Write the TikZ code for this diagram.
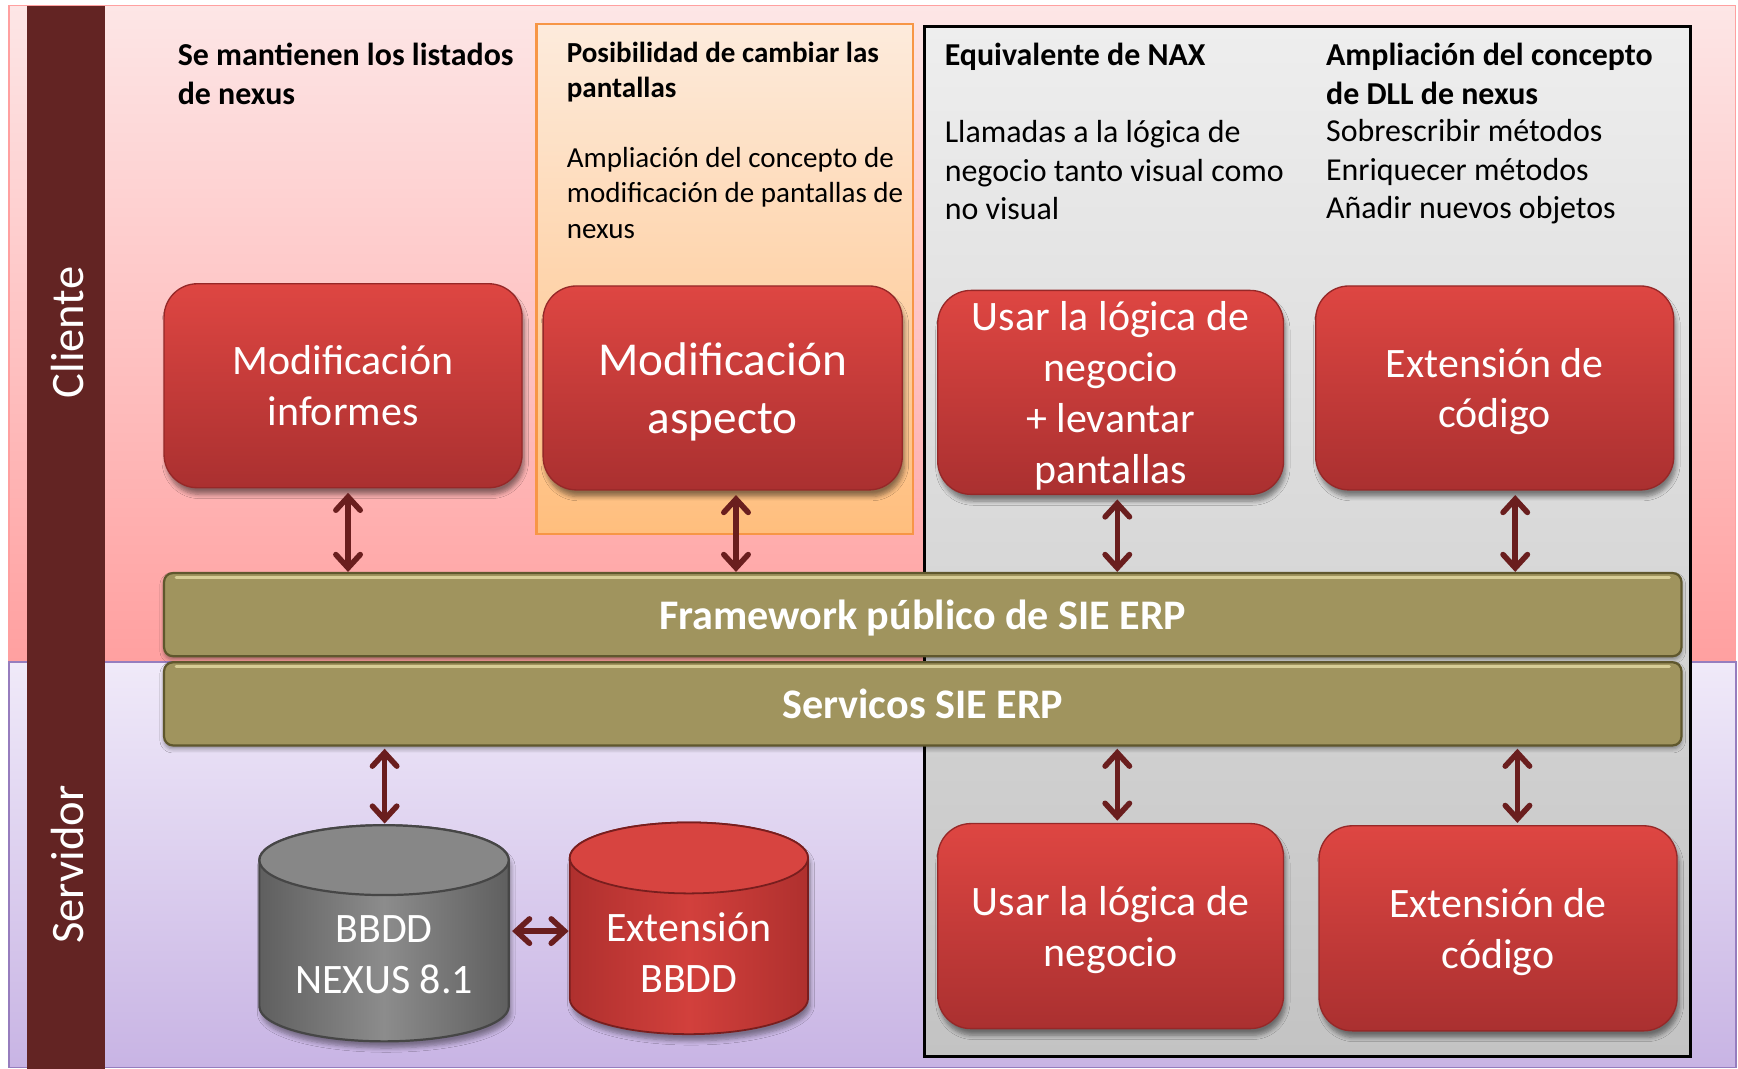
\documentclass[tikz,border=0pt]{standalone}
\usepackage{fontspec}
\setmainfont{Carlito}
\usetikzlibrary{arrows.meta,shadows.blur}
\definecolor{pinkT}{RGB}{253,230,230}
\definecolor{pinkB}{RGB}{255,160,160}
\definecolor{lavT}{RGB}{240,234,249}
\definecolor{lavB}{RGB}{200,180,228}
\definecolor{lavD}{RGB}{150,125,190}
\definecolor{maroonC}{RGB}{99,36,35}
\definecolor{orT}{RGB}{253,235,220}
\definecolor{orB}{RGB}{255,190,125}
\definecolor{orD}{RGB}{247,150,70}
\definecolor{grT}{RGB}{238,238,238}
\definecolor{grB}{RGB}{195,195,195}
\definecolor{redT}{RGB}{222,70,66}
\definecolor{redB}{RGB}{170,48,48}
\definecolor{redD}{RGB}{150,40,40}
\definecolor{oliveC}{RGB}{160,148,94}
\definecolor{oliveD}{RGB}{95,87,45}
\definecolor{oliveH}{RGB}{215,205,150}
\definecolor{arrC}{RGB}{106,30,30}
\definecolor{cylGd}{RGB}{95,95,95}
\definecolor{cylGm}{RGB}{140,140,140}
\definecolor{cylGt}{RGB}{135,135,135}
\definecolor{cylGo}{RGB}{70,70,70}
\definecolor{cylRd}{RGB}{175,48,46}
\definecolor{cylRm}{RGB}{210,64,60}
\definecolor{cylRt}{RGB}{215,68,64}
\definecolor{cylRo}{RGB}{120,30,30}
\begin{document}
\begin{tikzpicture}[x=0.5pt,y=-0.5pt,
  hdr/.style={anchor=base west, inner sep=0pt, align=left, font=\bfseries\fontsize{14.4}{17.5}\selectfont},
  txt/.style={anchor=base west, inner sep=0pt, align=left, font=\fontsize{14.4}{17.3}\selectfont},
  hdrsm/.style={anchor=base west, inner sep=0pt, align=left, font=\bfseries\fontsize{13.1}{16}\selectfont},
  txtsm/.style={anchor=base west, inner sep=0pt, align=left, font=\fontsize{13.1}{16}\selectfont},
  sidelbl/.style={text=white, inner sep=0pt, rotate=90, font=\fontsize{21}{25}\selectfont},
  rbox/.style={rounded corners=15pt, top color=redT, bottom color=redB, draw=redD, line width=0.6pt,
    text=white, align=center, inner sep=0pt, text depth=0pt,
    blur shadow={shadow xshift=1pt, shadow yshift=-3pt, shadow blur steps=6, shadow opacity=45},
    font=\fontsize{18.9}{23}\selectfont},
  bar/.style={rounded corners=4pt, fill=oliveC, draw=oliveD, line width=1pt, text=white,
    font=\bfseries\fontsize{19}{23}\selectfont, minimum width=684.5pt, minimum height=37.5pt, inner sep=0pt,
    blur shadow={shadow xshift=0pt, shadow yshift=-1.5pt, shadow blur steps=4, shadow opacity=40}},
  hilite/.style={draw=oliveH, line width=1.4pt, line cap=round},
  arr/.style={draw=arrC, line width=2.5pt, line cap=round,
    {Straight Barb[length=6pt,width=11pt,line cap=round]}-{Straight Barb[length=6pt,width=11pt,line cap=round]}},
  cyltext/.style={text=white, align=center, inner sep=0pt, font=\fontsize{18.9}{23}\selectfont}
]
\useasboundingbox (0,0) rectangle (1568,964);
\fill[white] (0,0) rectangle (1568,964);
% backgrounds
\path[top color=pinkT, bottom color=pinkB, draw=pinkB, line width=0.6pt] (8,5) rectangle (1566,597);
\path[top color=lavT, bottom color=lavB, draw=lavD, line width=0.8pt] (8,597) rectangle (1566,963);
\fill[maroonC] (24,5) rectangle (95,964);
\node[sidelbl] (cli) at (61,300) {Cliente};
\node[sidelbl] (srv) at (61,780) {Servidor};
% orange and gray panels
\path[top color=orT, bottom color=orB, draw=orD, line width=1pt] (484,22) rectangle (824,482);
\path[top color=grT, bottom color=grB, draw=black, line width=1.2pt] (834,24) rectangle (1525,953);
% texts (anchor = baseline of the last line)
\node[hdr] (h1) at (160,94) {Se mantienen los listados\\de nexus};
\node[hdrsm] (h2) at (511,88) {Posibilidad de cambiar las\\pantallas};
\node[txtsm] (p2) at (511,215) {Ampliación del concepto de\\modificación de pantallas de\\nexus};
\node[hdr] (h3) at (852,59) {Equivalente de NAX};
\node[txt] (p3) at (852,198) {Llamadas a la lógica de\\negocio tanto visual como\\no visual};
\node[hdr] (h4) at (1196,94) {Ampliación del concepto\\de DLL de nexus};
\node[txt] (p4) at (1196,197) {Sobrescribir métodos\\Enriquecer métodos\\Añadir nuevos objetos};
% red boxes
\node[rbox, minimum width=161.5pt, minimum height=92pt] (b1) at (309.5,348) {Modificación\\informes};
\node[rbox, minimum width=162pt, minimum height=92pt, font=\fontsize{21.3}{26}\selectfont] (b2) at (652,350) {Modificación\\aspecto};
\node[rbox, minimum width=156pt, minimum height=92pt] (b3) at (1002,354) {Usar la lógica de\\negocio\\+ levantar\\pantallas};
\node[rbox, minimum width=161.5pt, minimum height=92pt] (b4) at (1348.5,350) {Extensión de\\código};
\node[rbox, minimum width=156pt, minimum height=92.5pt] (b5) at (1002,835.5) {Usar la lógica de\\negocio};
\node[rbox, minimum width=161.5pt, minimum height=92.5pt] (b6) at (1351.5,837.5) {Extensión de\\código};
% bars
\node[bar, text depth=0pt] (fw) at (832.5,554.5) {Framework público de SIE ERP};
\draw[hilite] ([xshift=6pt,yshift=-2.5pt]fw.north west) -- ([xshift=-6pt,yshift=-2.5pt]fw.north east);
\node[bar] (sv) at (832.5,635) {Servicos SIE ERP};
\draw[hilite] ([xshift=6pt,yshift=-2.5pt]sv.north west) -- ([xshift=-6pt,yshift=-2.5pt]sv.north east);
% cylinders
\path[blur shadow={shadow xshift=1pt, shadow yshift=-3pt, shadow blur steps=6, shadow opacity=40},
  left color=cylGd, right color=cylGd, middle color=cylGm, draw=cylGo, line width=1pt]
  (234,776) -- (234,908) arc[start angle=180,end angle=360,x radius=56.25pt,y radius=15.75pt]
  -- (459,776) arc[start angle=0,end angle=180,x radius=56.25pt,y radius=15.75pt] -- cycle;
\path[fill=cylGt, draw=cylGo, line width=1pt] (346.5,776) ellipse [x radius=56.25pt, y radius=15.75pt];
\path[blur shadow={shadow xshift=1pt, shadow yshift=-3pt, shadow blur steps=6, shadow opacity=40},
  left color=cylRd, right color=cylRd, middle color=cylRm, draw=cylRo, line width=0.8pt]
  (514,774) -- (514,901) arc[start angle=180,end angle=360,x radius=53.75pt,y radius=16pt]
  -- (729,774) arc[start angle=0,end angle=180,x radius=53.75pt,y radius=16pt] -- cycle;
\path[fill=cylRt, draw=cylRo, line width=0.8pt] (621.5,774) ellipse [x radius=53.75pt, y radius=16pt];
\node[cyltext] (db) at (346.5,861) {BBDD\\NEXUS 8.1};
\node[cyltext] (ext) at (621.5,859) {Extensión\\BBDD};
\coordinate (dbtop) at (347,743);
\coordinate (dbR) at (462,840);
\coordinate (extL) at (513,840);
% arrows
\draw[arr] ([xshift=2.25pt,yshift=-2pt]b1.south) -- ([xshift=2.25pt]b1.south |- fw.north);
\draw[arr] ([xshift=6pt,yshift=-2pt]b2.south) -- ([xshift=6pt]b2.south |- fw.north);
\draw[arr] ([xshift=3pt,yshift=-2pt]b3.south) -- ([xshift=3pt]b3.south |- fw.north);
\draw[arr] ([xshift=9.25pt,yshift=-2pt]b4.south) -- ([xshift=9.25pt]b4.south |- fw.north);
\draw[arr] ([yshift=-1pt]dbtop |- sv.south) -- (dbtop);
\draw[arr] ([xshift=3pt,yshift=-1pt]b5.north |- sv.south) -- ([xshift=3pt,yshift=1pt]b5.north);
\draw[arr] ([xshift=8.75pt,yshift=-1pt]b6.north |- sv.south) -- ([xshift=8.75pt,yshift=1pt]b6.north);
\draw[arr] (dbR) -- (extL);
\end{tikzpicture}
\end{document}
